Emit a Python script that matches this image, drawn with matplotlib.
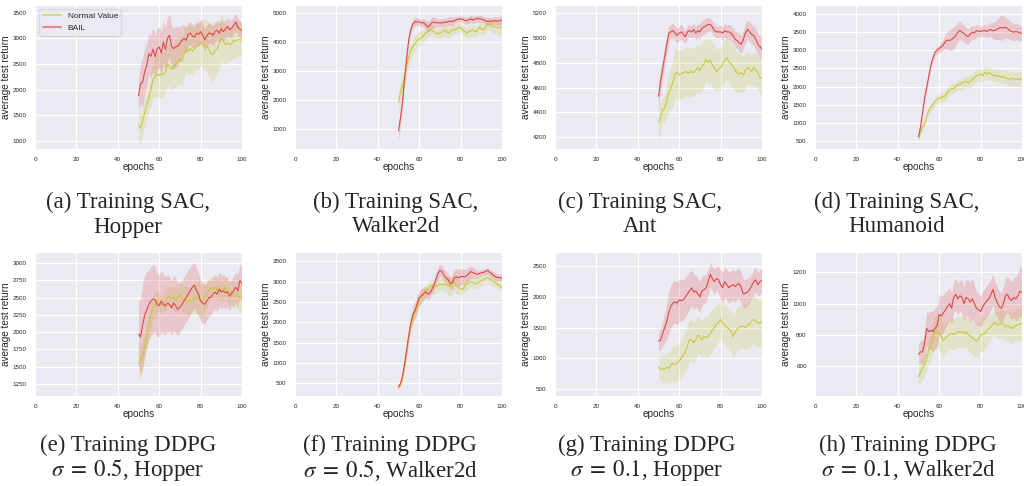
import numpy as np
import matplotlib
matplotlib.use("Agg")
import matplotlib.pyplot as plt
import seaborn as sns
from matplotlib.lines import Line2D

sns.set_style("darkgrid")
plt.rcParams["font.family"] = ["Liberation Sans", "DejaVu Sans"]
plt.rcParams["mathtext.fontset"] = "stix"

epochs = list(range(50, 101))

# --- (a) SAC Hopper
sac_hopper_bail = [1880, 2120, 2150, 2350, 2480, 2700, 2650, 2790, 2640, 2800,
                   2830, 2720, 2930, 2780, 3000, 3060, 2840, 2800, 2840, 2850,
                   2900, 2960, 3000, 2960, 3080, 3100, 3050, 3020, 3100, 3080,
                   3130, 3060, 2970, 3050, 3100, 3100, 3060, 3130, 3160, 3100,
                   3190, 3130, 3180, 3230, 3170, 3200, 3250, 3320, 3220, 3180,
                   3150]
sac_hopper_bail_sd = [300, 400, 475, 450, 420, 400, 400, 420, 400, 400,
                      400, 400, 410, 420, 420, 420, 410, 400, 400, 370,
                      330, 300, 260, 240, 230, 225, 225, 225, 225, 225,
                      225, 220, 215, 210, 205, 200, 200, 195, 195, 190,
                      190, 185, 180, 180, 175, 175, 170, 170, 165, 160,
                      160]
sac_hopper_nv = [1300, 1250, 1400, 1550, 1700, 1850, 2000, 2200, 2250, 2300,
                 2280, 2300, 2300, 2350, 2500, 2450, 2400, 2450, 2500, 2550,
                 2600, 2550, 2700, 2800, 2750, 2800, 2750, 2800, 2850, 2850,
                 2920, 2900, 2870, 2850, 2800, 2700, 2680, 2760, 2800, 2900,
                 3000, 2950, 2870, 2920, 2880, 2900, 2960, 2950, 2970, 2980,
                 2960]
sac_hopper_nv_sd = [320, 300, 280, 260, 250, 250, 300, 350, 400, 430,
                    450, 440, 430, 420, 410, 400, 410, 430, 450, 460,
                    470, 470, 470, 470, 470, 470, 460, 460, 450, 450,
                    450, 470, 490, 510, 530, 550, 550, 520, 500, 470,
                    450, 420, 390, 360, 340, 330, 330, 330, 330, 330,
                    330]

# --- (b) SAC Walker2d
sac_walker_bail = [950, 1400, 2000, 2800, 3500, 4100, 4450, 4620, 4700, 4680,
                   4690, 4650, 4660, 4600, 4520, 4550, 4650, 4680, 4660, 4650,
                   4660, 4640, 4680, 4670, 4700, 4710, 4700, 4720, 4760, 4780,
                   4790, 4770, 4740, 4730, 4760, 4790, 4750, 4780, 4810, 4790,
                   4780, 4760, 4720, 4700, 4710, 4700, 4720, 4730, 4700, 4740,
                   4750]
sac_walker_bail_sd = [350, 250, 200, 180, 160, 150, 150, 150, 150, 130,
                      120, 120, 130, 150, 180, 190, 200, 180, 150, 140,
                      130, 130, 140, 140, 150, 150, 140, 130, 110, 100,
                      100, 100, 110, 120, 130, 130, 130, 120, 120, 120,
                      120, 120, 120, 130, 130, 130, 130, 140, 140, 150,
                      150]
sac_walker_nv = [1950, 2300, 2500, 2800, 3200, 3500, 3700, 3850, 3950, 4050,
                 4100, 4150, 4200, 4300, 4350, 4420, 4400, 4350, 4300, 4280,
                 4300, 4350, 4400, 4380, 4300, 4350, 4420, 4400, 4450, 4480,
                 4500, 4400, 4350, 4300, 4350, 4380, 4400, 4350, 4380, 4500,
                 4450, 4400, 4500, 4600, 4620, 4550, 4500, 4520, 4480, 4500,
                 4480]
sac_walker_nv_sd = [350, 350, 340, 330, 310, 300, 290, 280, 270, 260,
                    250, 240, 230, 220, 210, 200, 200, 190, 180, 170,
                    170, 170, 180, 180, 180, 180, 170, 160, 150, 150,
                    150, 160, 170, 180, 190, 200, 200, 200, 200, 200,
                    200, 200, 200, 200, 200, 200, 220, 240, 260, 270,
                    280]

# --- (c) SAC Ant
sac_ant_bail = [4530, 4650, 4750, 4850, 4950, 5040, 5050, 5060, 5040, 5020,
                5040, 5050, 5030, 5010, 5050, 5060, 5050, 5070, 5040, 5060,
                5050, 5080, 5090, 5100, 5110, 5110, 5090, 5060, 5050, 5050,
                5050, 5040, 5060, 5050, 5050, 5040, 5020, 4990, 4980, 4960,
                4950, 4990, 5040, 5070, 5050, 5030, 5020, 4990, 4950, 4930,
                4910]
sac_ant_bail_sd = [100, 95, 90, 80, 70, 60, 60, 60, 60, 60,
                   60, 60, 55, 55, 50, 50, 50, 55, 55, 60,
                   60, 60, 60, 60, 55, 50, 50, 50, 50, 50,
                   50, 50, 55, 55, 60, 60, 60, 65, 65, 70,
                   70, 70, 75, 75, 80, 80, 80, 85, 85, 90,
                   90]
sac_ant_nv = [4320, 4360, 4420, 4430, 4500, 4560, 4600, 4640, 4710, 4720,
              4700, 4710, 4720, 4730, 4720, 4720, 4730, 4720, 4740, 4760,
              4740, 4770, 4790, 4830, 4800, 4820, 4780, 4760, 4730, 4750,
              4760, 4790, 4820, 4840, 4810, 4790, 4770, 4740, 4720, 4710,
              4720, 4700, 4740, 4760, 4750, 4730, 4760, 4740, 4720, 4680,
              4680]
sac_ant_nv_sd = [150, 120, 100, 120, 140, 150, 170, 190, 200, 200,
                 200, 200, 200, 200, 200, 200, 200, 195, 190, 190,
                 190, 185, 185, 180, 180, 180, 180, 175, 175, 170,
                 170, 170, 175, 175, 180, 180, 175, 170, 160, 155,
                 150, 145, 140, 135, 130, 130, 130, 135, 135, 140,
                 140]

# --- (d) SAC Humanoid
sac_humanoid_bail = [620, 900, 1300, 1700, 2000, 2300, 2600, 2800, 2950, 3000,
                     3050, 3100, 3150, 3250, 3280, 3270, 3300, 3350, 3400, 3500,
                     3550, 3500, 3470, 3400, 3380, 3450, 3500, 3480, 3540, 3530,
                     3520, 3540, 3550, 3520, 3560, 3570, 3540, 3550, 3580, 3620,
                     3630, 3620, 3640, 3600, 3550, 3520, 3500, 3520, 3500, 3480,
                     3470]
sac_humanoid_bail_sd = [80, 90, 100, 100, 100, 100, 100, 100, 100, 100,
                        100, 120, 150, 200, 250, 280, 300, 300, 280, 260,
                        250, 240, 230, 220, 210, 200, 190, 180, 170, 160,
                        150, 150, 160, 170, 180, 200, 220, 250, 280, 320,
                        350, 330, 300, 270, 250, 250, 240, 230, 220, 210,
                        200]
sac_humanoid_nv = [600, 750, 900, 1000, 1200, 1350, 1450, 1500, 1600, 1650,
                   1680, 1700, 1720, 1750, 1850, 1900, 1950, 1950, 2000, 2050,
                   2050, 2100, 2120, 2150, 2100, 2150, 2200, 2250, 2300, 2320,
                   2350, 2300, 2400, 2350, 2380, 2350, 2300, 2330, 2280, 2300,
                   2250, 2270, 2250, 2220, 2200, 2230, 2220, 2200, 2210, 2190,
                   2230]
sac_humanoid_nv_sd = [80, 85, 90, 95, 100, 100, 105, 110, 120, 125,
                      130, 135, 140, 145, 150, 150, 150, 150, 150, 150,
                      150, 155, 160, 165, 170, 170, 170, 175, 175, 180,
                      180, 180, 175, 175, 170, 170, 170, 175, 175, 180,
                      180, 185, 190, 195, 200, 200, 200, 200, 200, 200,
                      200]

# --- (e) DDPG sigma 0.5 Hopper
ddpg05_hopper_bail = [1970, 1930, 2100, 2250, 2320, 2400, 2450, 2480, 2470, 2400,
                      2380, 2450, 2400, 2380, 2420, 2400, 2350, 2420, 2380, 2330,
                      2360, 2400, 2450, 2500, 2550, 2600, 2650, 2680, 2600, 2550,
                      2450, 2420, 2400, 2450, 2500, 2500, 2550, 2580, 2550, 2620,
                      2580, 2600, 2570, 2580, 2520, 2560, 2600, 2650, 2600, 2750,
                      2700]
ddpg05_hopper_bail_sd = [450, 550, 600, 580, 550, 500, 500, 500, 480, 460,
                         450, 440, 430, 420, 410, 400, 400, 400, 400, 380,
                         350, 350, 350, 350, 350, 350, 340, 330, 320, 310,
                         300, 290, 280, 270, 260, 250, 250, 250, 250, 250,
                         250, 240, 230, 220, 210, 200, 210, 220, 230, 240,
                         250]
ddpg05_hopper_nv = [1550, 1580, 1650, 1800, 1950, 2100, 2250, 2350, 2400, 2450,
                    2420, 2400, 2420, 2450, 2500, 2520, 2480, 2500, 2450, 2500,
                    2550, 2500, 2450, 2480, 2430, 2450, 2470, 2500, 2480, 2520,
                    2450, 2460, 2500, 2560, 2600, 2650, 2620, 2660, 2600, 2640,
                    2580, 2600, 2650, 2580, 2560, 2600, 2520, 2550, 2530, 2500,
                    2480]
ddpg05_hopper_nv_sd = [250, 230, 200, 200, 200, 200, 190, 180, 180, 150,
                       120, 130, 140, 140, 150, 150, 160, 170, 180, 190,
                       200, 200, 200, 200, 200, 200, 210, 220, 230, 240,
                       250, 240, 220, 200, 170, 150, 150, 150, 150, 150,
                       150, 150, 150, 160, 170, 180, 185, 190, 195, 200,
                       200]

# --- (f) DDPG sigma 0.5 Walker2d
ddpg05_walker_bail = [420, 500, 700, 1000, 1350, 1700, 2000, 2200, 2300, 2450,
                      2600, 2650, 2700, 2750, 2700, 2700, 2800, 2900, 3050, 3200,
                      3280, 3250, 3150, 3100, 3050, 2950, 2980, 3100, 3120, 3100,
                      3120, 3130, 3120, 3150, 3200, 3250, 3220, 3200, 3180, 3200,
                      3220, 3230, 3250, 3280, 3230, 3200, 3150, 3120, 3100, 3100,
                      3080]
ddpg05_walker_bail_sd = [40, 50, 70, 100, 130, 150, 180, 200, 200, 200,
                         200, 180, 160, 140, 130, 130, 130, 130, 140, 150,
                         150, 150, 150, 150, 150, 150, 170, 190, 200, 200,
                         200, 190, 180, 170, 160, 150, 140, 120, 100, 90,
                         80, 80, 80, 80, 80, 80, 85, 85, 90, 90,
                         90]
ddpg05_walker_nv = [380, 480, 650, 950, 1300, 1650, 1950, 2100, 2250, 2400,
                    2550, 2650, 2700, 2750, 2800, 2880, 2920, 2850, 2880, 2900,
                    2950, 2920, 2950, 2920, 2900, 2880, 2950, 3000, 2900, 2850,
                    2830, 2800, 2900, 2950, 2970, 3000, 2980, 2950, 2970, 3000,
                    3020, 3050, 3080, 3100, 3070, 3050, 3000, 2980, 2920, 2900,
                    2850]
ddpg05_walker_nv_sd = [40, 50, 70, 100, 130, 150, 150, 150, 150, 150,
                       150, 150, 150, 150, 150, 150, 150, 150, 150, 150,
                       150, 170, 190, 210, 230, 250, 250, 230, 200, 180,
                       150, 150, 150, 150, 150, 150, 140, 130, 130, 120,
                       120, 120, 120, 125, 130, 130, 120, 110, 100, 100,
                       100]

# --- (g) DDPG sigma 0.1 Hopper
ddpg01_hopper_bail = [1280, 1300, 1400, 1500, 1600, 1750, 1850, 1900, 1920, 1900,
                      1950, 1940, 1950, 2000, 2050, 2100, 2150, 2080, 2100, 2050,
                      2000, 2100, 2120, 2150, 2250, 2370, 2300, 2250, 2300, 2280,
                      2200, 2150, 2250, 2200, 2150, 2180, 2200, 2170, 2200, 2220,
                      2150, 2050, 2060, 2080, 2120, 2180, 2250, 2280, 2200, 2250,
                      2270]
ddpg01_hopper_bail_sd = [150, 170, 200, 250, 300, 350, 350, 350, 350, 350,
                         350, 340, 330, 320, 310, 300, 290, 280, 270, 260,
                         250, 240, 230, 220, 210, 200, 200, 200, 200, 220,
                         250, 250, 250, 250, 250, 250, 250, 250, 250, 250,
                         250, 240, 230, 220, 210, 200, 200, 200, 200, 200,
                         200]
ddpg01_hopper_nv = [850, 820, 820, 830, 850, 830, 880, 920, 900, 920,
                    950, 1000, 1050, 1100, 1200, 1300, 1300, 1250, 1300, 1380,
                    1350, 1300, 1350, 1340, 1350, 1400, 1450, 1500, 1560, 1580,
                    1630, 1560, 1550, 1500, 1480, 1450, 1350, 1420, 1480, 1500,
                    1520, 1520, 1500, 1540, 1550, 1600, 1640, 1600, 1580, 1570,
                    1600]
ddpg01_hopper_nv_sd = [180, 200, 220, 240, 250, 250, 270, 300, 300, 300,
                       300, 310, 320, 330, 340, 350, 340, 330, 320, 310,
                       300, 310, 320, 330, 340, 350, 340, 330, 320, 310,
                       300, 310, 320, 330, 340, 350, 350, 350, 350, 350,
                       350, 360, 370, 380, 390, 400, 400, 400, 390, 380,
                       380]

# --- (h) DDPG sigma 0.1 Walker2d
ddpg01_walker_bail = [675, 690, 690, 750, 840, 820, 830, 820, 840, 860,
                      930, 920, 940, 960, 980, 1000, 970, 1040, 1060, 1030,
                      1050, 1040, 1000, 1040, 1030, 1010, 1030, 1000, 970, 960,
                      950, 980, 1000, 1020, 1030, 1060, 1090, 1040, 1010, 980,
                      970, 1000, 1050, 1060, 1030, 1020, 1040, 1030, 1050, 1080,
                      1070]
ddpg01_walker_bail_sd = [60, 70, 80, 100, 110, 120, 125, 130, 130, 130,
                         130, 125, 120, 115, 110, 100, 100, 100, 100, 100,
                         100, 105, 110, 115, 120, 130, 130, 120, 110, 100,
                         100, 100, 100, 100, 100, 100, 100, 100, 100, 100,
                         100, 105, 110, 115, 120, 120, 130, 140, 150, 160,
                         160]
ddpg01_walker_nv = [530, 560, 590, 610, 650, 700, 730, 790, 820, 830,
                    810, 790, 760, 780, 790, 800, 810, 800, 810, 820,
                    815, 820, 810, 820, 800, 790, 780, 770, 760, 770,
                    800, 800, 810, 830, 840, 850, 870, 880, 860, 870,
                    870, 870, 850, 860, 850, 840, 850, 860, 860, 870,
                    870]
ddpg01_walker_nv_sd = [60, 65, 70, 75, 80, 90, 95, 100, 105, 110,
                       110, 110, 105, 100, 100, 100, 100, 100, 100, 100,
                       100, 100, 100, 100, 100, 100, 105, 110, 110, 110,
                       110, 105, 100, 95, 90, 80, 80, 85, 85, 90,
                       90, 90, 95, 95, 100, 100, 100, 105, 105, 110,
                       110]

captions = [
    ("(a) Training SAC,", "Hopper"),
    ("(b) Training SAC,", "Walker2d"),
    ("(c) Training SAC,", "Ant"),
    ("(d) Training SAC,", "Humanoid"),
    ("(e) Training DDPG", r"$\sigma\;=\;0.5$, Hopper"),
    ("(f) Training DDPG", r"$\sigma\;=\;0.5$, Walker2d"),
    ("(g) Training DDPG", r"$\sigma\;=\;0.1$, Hopper"),
    ("(h) Training DDPG", r"$\sigma\;=\;0.1$, Walker2d"),
]

panels = [
    (sac_hopper_nv, sac_hopper_nv_sd, sac_hopper_bail, sac_hopper_bail_sd, (845, 3650), np.arange(1000, 3501, 500)),
    (sac_walker_nv, sac_walker_nv_sd, sac_walker_bail, sac_walker_bail_sd, (325, 5265), np.arange(1000, 5001, 1000)),
    (sac_ant_nv, sac_ant_nv_sd, sac_ant_bail, sac_ant_bail_sd, (4103, 5267), np.arange(4200, 5201, 200)),
    (sac_humanoid_nv, sac_humanoid_nv_sd, sac_humanoid_bail, sac_humanoid_bail_sd, (280, 4250), np.arange(500, 4001, 500)),
    (ddpg05_hopper_nv, ddpg05_hopper_nv_sd, ddpg05_hopper_bail, ddpg05_hopper_bail_sd, (1075, 3160), np.arange(1250, 3001, 250)),
    (ddpg05_walker_nv, ddpg05_walker_nv_sd, ddpg05_walker_bail, ddpg05_walker_bail_sd, (190, 3730), np.arange(500, 3501, 500)),
    (ddpg01_hopper_nv, ddpg01_hopper_nv_sd, ddpg01_hopper_bail, ddpg01_hopper_bail_sd, (380, 2735), np.arange(500, 2501, 500)),
    (ddpg01_walker_nv, ddpg01_walker_nv_sd, ddpg01_walker_bail, ddpg01_walker_bail_sd, (407, 1331), np.arange(600, 1201, 200)),
]

nv_color = "#c9c93c"
bail_color = "#e04848"

W, H = 1024, 486
fig = plt.figure(figsize=(W / 100, H / 100), dpi=100)

col_left = [35, 295, 555, 815]
row_top = [5, 252]
ax_w, ax_h = 207, 144
cap_x = [128, 396, 640, 897, 128, 390, 647, 908]
cap_y = [(202, 227), (445, 470)]
serif = ["Liberation Serif", "DejaVu Serif"]

x = np.array(epochs)
for i, (nv, nv_sd, bail, bail_sd, ylim, yticks) in enumerate(panels):
    r, c = divmod(i, 4)
    ax = fig.add_axes([col_left[c] / W, 1 - (row_top[r] + ax_h) / H, ax_w / W, ax_h / H])
    nv, nv_sd = np.array(nv), np.array(nv_sd)
    bail, bail_sd = np.array(bail), np.array(bail_sd)
    ax.fill_between(x, nv - nv_sd, nv + nv_sd, color=nv_color, alpha=0.22, linewidth=0)
    ax.fill_between(x, bail - bail_sd, bail + bail_sd, color=bail_color, alpha=0.22, linewidth=0)
    ax.plot(x, nv, color=nv_color, lw=0.8)
    ax.plot(x, bail, color=bail_color, lw=0.8)
    ax.set_xlim(0, 100)
    ax.set_ylim(*ylim)
    ax.set_xticks([0, 20, 40, 60, 80, 100])
    ax.set_yticks(yticks)
    ax.tick_params(labelsize=4.5, pad=2.5)
    ax.set_xlabel("epochs", fontsize=7.2, labelpad=0)
    ax.set_ylabel("average test return", fontsize=7.2, labelpad=1.5)
    if i == 0:
        handles = [Line2D([], [], color=nv_color, lw=1.5, alpha=0.6),
                   Line2D([], [], color=bail_color, lw=1.5, alpha=0.6)]
        ax.legend(handles, ["Normal Value", "BAIL"], loc="upper left",
                  fontsize=6, frameon=True, facecolor="#EAEAF2",
                  edgecolor="#d5d5dd", handlelength=2.2)
    l1, l2 = captions[i]
    y1, y2 = cap_y[r]
    fig.text(cap_x[i] / W, 1 - y1 / H, l1, ha="center", va="center",
             fontsize=16.5, family=serif)
    fig.text(cap_x[i] / W, 1 - y2 / H, l2, ha="center", va="center",
             fontsize=16.5, family=serif)

fig.savefig("out.png", dpi=100)
